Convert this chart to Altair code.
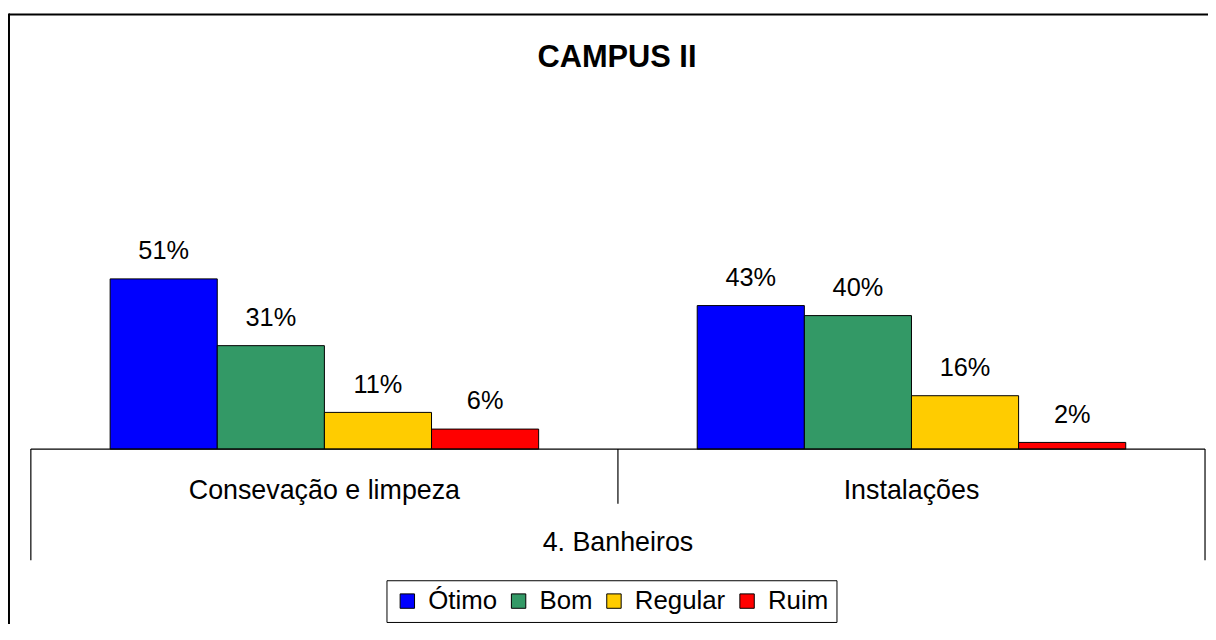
import altair as alt
import pandas as pd

# ---- data ----
categorias = ["Consevação e limpeza", "Instalações"]
avaliacoes = ["Ótimo", "Bom", "Regular", "Ruim"]
valores_conservacao = [51, 31, 11, 6]
valores_instalacoes = [43, 40, 16, 2]
cores = ["#0000FF", "#339966", "#FFCC00", "#FF0000"]
titulo = "CAMPUS II"
grupo = "4. Banheiros"

rows = []
for cat, vals in zip(categorias, [valores_conservacao, valores_instalacoes]):
    for av, v in zip(avaliacoes, vals):
        rows.append({"categoria": cat, "avaliacao": av, "valor": v, "rotulo": f"{v}%"})
df = pd.DataFrame(rows)
df_cat = pd.DataFrame({"categoria": categorias})
one = pd.DataFrame({"k": [0]})

W, H = 1182, 336
FONT = "Liberation Sans"

xscale = alt.Scale(domain=categorias, paddingInner=0, paddingOuter=0)
xoff = alt.XOffset("avaliacao:N", sort=avaliacoes,
                   scale=alt.Scale(domain=avaliacoes, paddingInner=0, paddingOuter=0.74))
yscale = alt.Scale(domain=[0, 100])

border_top = alt.Chart(one).mark_rule(color="black", strokeWidth=2).encode(
    x=alt.value(-22), x2=alt.value(W + 40), y=alt.value(-101.5)
)
border_left = alt.Chart(one).mark_rule(color="black", strokeWidth=2).encode(
    x=alt.value(-22), y=alt.value(-102.5), y2=alt.value(H + 400)
)

bars = alt.Chart(df).mark_bar(stroke="black", strokeWidth=1).encode(
    x=alt.X("categoria:N", scale=xscale, axis=None, sort=categorias),
    xOffset=xoff,
    y=alt.Y("valor:Q", scale=yscale, axis=None),
    color=alt.Color(
        "avaliacao:N",
        sort=avaliacoes,
        scale=alt.Scale(domain=avaliacoes, range=cores),
        legend=alt.Legend(
            title=None,
            orient="none",
            legendX=358,
            legendY=468,
            direction="horizontal",
            strokeColor="black",
            padding=8,
            symbolType="square",
            symbolSize=210,
            symbolStrokeColor="black",
            symbolStrokeWidth=1,
            labelFont=FONT,
            labelFontSize=26,
            labelColor="black",
            labelOffset=8,
            columnPadding=8,
        ),
    ),
)

value_labels = alt.Chart(df).mark_text(
    font=FONT, fontSize=25.5, baseline="middle", dy=-28, color="black"
).encode(
    x=alt.X("categoria:N", scale=xscale, axis=None, sort=categorias),
    xOffset=xoff,
    y=alt.Y("valor:Q", scale=yscale, axis=None),
    text="rotulo:N",
)

cat_labels = alt.Chart(df_cat).mark_text(
    font=FONT, fontSize=27, baseline="middle", color="black"
).encode(
    x=alt.X("categoria:N", scale=xscale, axis=None, sort=categorias),
    y=alt.value(H + 42),
    text="categoria:N",
)

axis_line = alt.Chart(one).mark_rule(color="black", strokeWidth=1.2).encode(
    x=alt.value(0), x2=alt.value(W), y=alt.value(H)
)
left_line = alt.Chart(one).mark_rule(color="black", strokeWidth=1.2).encode(
    x=alt.value(0), y=alt.value(H), y2=alt.value(H + 112)
)
right_line = alt.Chart(one).mark_rule(color="black", strokeWidth=1.2).encode(
    x=alt.value(W), y=alt.value(H), y2=alt.value(H + 112)
)
mid_line = alt.Chart(one).mark_rule(color="black", strokeWidth=1.2).encode(
    x=alt.value(W / 2), y=alt.value(H), y2=alt.value(H + 55)
)

group_label = alt.Chart(one).mark_text(
    font=FONT, fontSize=27, baseline="middle", color="black", text=grupo
).encode(x=alt.value(W / 2), y=alt.value(H + 95))

title_text = alt.Chart(one).mark_text(
    font=FONT, fontSize=31, fontWeight="bold", baseline="alphabetic", color="black", text=titulo
).encode(x=alt.value(W / 2 - 1), y=alt.value(-49))

chart = alt.layer(
    border_top, border_left, bars, value_labels, cat_labels, axis_line, left_line,
    right_line, mid_line, group_label, title_text,
).properties(
    width=W, height=H,
    background="white",
    autosize=alt.AutoSizeParams(type="none"),
    padding={"left": 23, "top": 106, "right": 3, "bottom": 174},
).configure_view(strokeWidth=0, stroke="transparent")

chart.save("out.html", embed_options={"renderer": "svg", "actions": False})
